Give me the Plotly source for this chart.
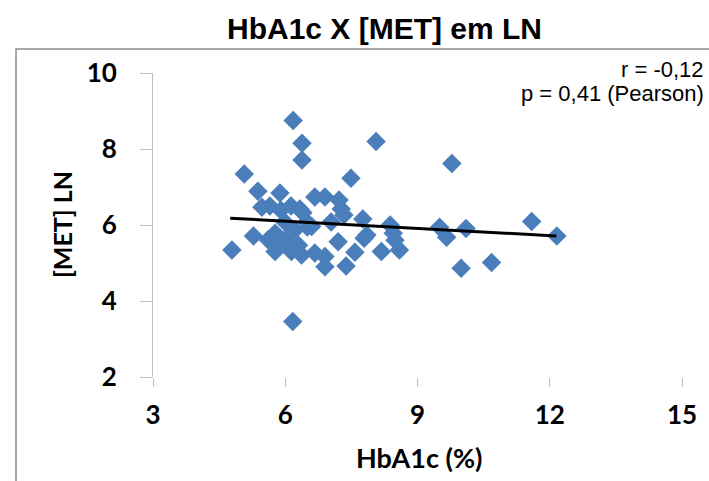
import plotly.graph_objects as go

# HbA1c (%) values
hba1c = [4.79, 5.07, 5.28, 5.38, 5.47, 5.61, 5.65, 5.77, 5.77, 5.88,
         5.90, 5.88, 5.99, 6.06, 6.13, 6.14, 6.18, 6.17, 6.22, 6.30,
         6.33, 6.37, 6.38, 6.38, 6.40, 6.49, 6.67, 6.60, 6.67, 6.90,
         6.90, 6.90, 7.04, 7.20, 7.22, 7.27, 7.33, 7.38, 7.49, 7.58,
         7.76, 7.79, 7.85, 8.06, 8.18, 8.38, 8.45, 8.59, 8.49, 9.50,
         9.66, 9.78, 9.99, 10.10, 10.68, 11.59, 12.16, 5.95, 6.00, 6.50]
# [MET] LN values
met_ln = [5.34, 7.34, 5.71, 6.89, 6.47, 5.61, 6.50, 5.78, 5.30, 6.84,
          6.39, 5.65, 6.08, 5.47, 6.50, 5.30, 8.75, 3.46, 5.87, 5.47,
          6.42, 5.21, 8.15, 7.71, 6.32, 6.08, 6.74, 5.96, 5.26, 6.74,
          4.90, 5.17, 6.08, 5.56, 6.66, 6.42, 6.26, 4.92, 7.23, 5.28,
          6.16, 5.65, 5.74, 8.20, 5.30, 6.00, 5.78, 5.34, 5.60, 5.94,
          5.68, 7.62, 4.86, 5.91, 5.01, 6.09, 5.71, 5.55, 5.62, 5.95]

# trend line end points
trend_x = [4.75, 12.15]
trend_y = [6.18, 5.71]

x_ticks = [3, 6, 9, 12, 15]
y_ticks = [2, 4, 6, 8, 10]

title_text = "HbA1c X [MET] em LN"
x_title = "HbA1c (%)"
y_title = "[MET] LN"
stat_lines = ["r = -0,12", "p = 0,41 (Pearson)"]

L, R, T, B = 153, 27, 73, 104
W, H = 709, 481
pw = W - L - R
ph = H - T - B


def px(xp):
    return (xp - L) / pw


def py(yp):
    return (H - B - yp) / ph


fig = go.Figure()
fig.add_trace(go.Scatter(
    x=hba1c, y=met_ln, mode="markers",
    marker=dict(symbol="diamond", size=15, color="#4a7ebb", line=dict(width=0)),
    showlegend=False, hoverinfo="skip"))
fig.add_trace(go.Scatter(
    x=trend_x, y=trend_y, mode="lines",
    line=dict(color="black", width=3), showlegend=False, hoverinfo="skip"))

tickfont = dict(family="Lato", size=26, color="black", weight="bold")

fig.update_layout(
    width=W, height=H,
    margin=dict(l=L, r=R, t=T, b=B),
    paper_bgcolor="white", plot_bgcolor="white",
    xaxis=dict(range=[3, 15], tickvals=x_ticks, showgrid=False, zeroline=False,
               showline=False, ticks="outside", ticklen=9, tickcolor="#bfbfbf",
               tickwidth=1, tickfont=tickfont, ticklabelstandoff=6),
    yaxis=dict(range=[2, 10], tickvals=y_ticks, showgrid=False, zeroline=False,
               showline=True, linecolor="#bfbfbf", linewidth=1,
               ticks="outside", ticklen=12, tickcolor="#bfbfbf", tickwidth=1,
               tickfont=tickfont, ticklabelstandoff=18),
    font=dict(family="Liberation Sans"),
)

annos = [
    dict(text="<b>" + title_text + "</b>", x=px(384), y=py(28), xref="paper", yref="paper",
         xanchor="center", yanchor="middle", showarrow=False,
         font=dict(family="Liberation Sans", size=30, color="black")),
    dict(text=x_title, x=px(419), y=py(457), xref="paper", yref="paper",
         xanchor="center", yanchor="middle", showarrow=False,
         font=dict(family="Lato", size=27, color="black", weight="bold")),
    dict(text=y_title, x=px(62), y=py(225), xref="paper", yref="paper",
         xanchor="center", yanchor="middle", showarrow=False, textangle=-90,
         font=dict(family="Lato", size=25, color="black", weight="bold")),
    dict(text=stat_lines[0], x=px(706), y=py(69), xref="paper", yref="paper",
         xanchor="right", yanchor="middle", showarrow=False,
         font=dict(family="Liberation Sans", size=22, color="black")),
    dict(text=stat_lines[1], x=px(706), y=py(93), xref="paper", yref="paper",
         xanchor="right", yanchor="middle", showarrow=False,
         font=dict(family="Liberation Sans", size=22, color="black")),
]
fig.update_layout(annotations=annos)

# chart-area border (top and left edges visible in the crop)
fig.add_shape(type="rect", xref="paper", yref="paper", layer="above",
              x0=px(16), x1=px(740), y0=py(500), y1=py(49),
              fillcolor="rgba(0,0,0,0)",
              line=dict(color="#8c8c8c", width=1.5))

fig.write_html("out.html",
               config={"displayModeBar": False},
               post_script="document.body.style.margin='0';document.body.style.overflow='hidden';")
